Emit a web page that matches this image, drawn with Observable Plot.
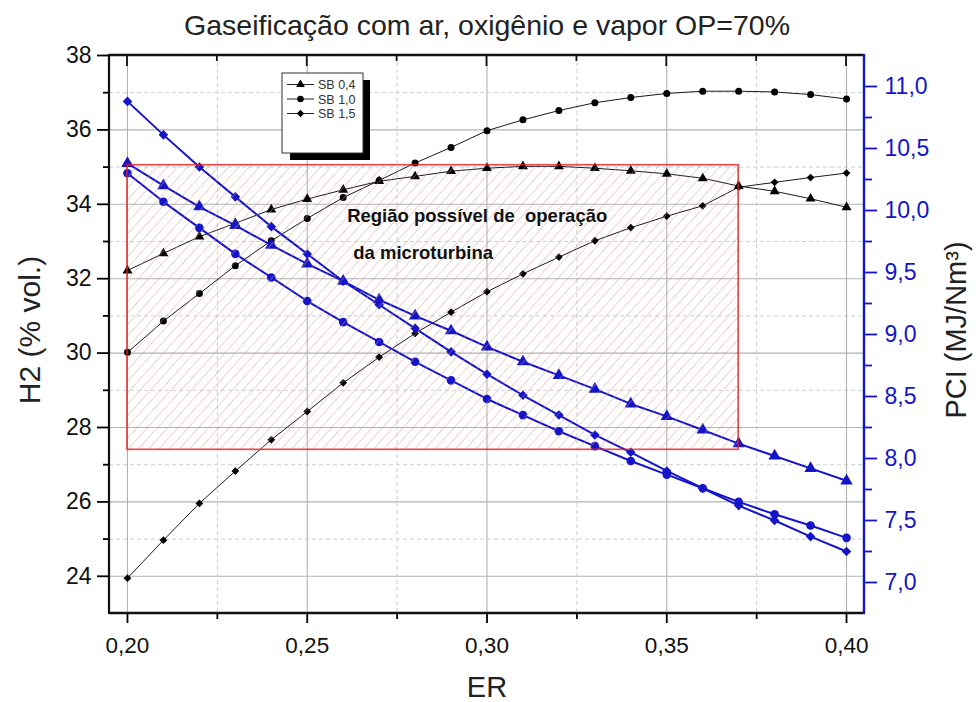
<!DOCTYPE html>
<html><head><meta charset="utf-8">
<script src="https://cdn.jsdelivr.net/npm/d3@7"></script>
<script src="https://cdn.jsdelivr.net/npm/@observablehq/plot@0.6"></script>
<style>
body{margin:0;background:#fff;font-family:"Liberation Sans",Arial,sans-serif;}
#wrap{position:relative;width:976px;height:702px;overflow:hidden;background:#fff}
#wrap > svg{position:absolute;left:0;top:0}
</style></head><body><div id="wrap"></div>
<script>
// ---------- data ----------
const ER = [0.20,0.21,0.22,0.23,0.24,0.25,0.26,0.27,0.28,0.29,0.30,0.31,0.32,0.33,0.34,0.35,0.36,0.37,0.38,0.39,0.40];
const seriesNames = ["SB 0,4","SB 1,0","SB 1,5"];
const h2_sb04 = [32.22,32.68,33.13,33.49,33.86,34.14,34.39,34.62,34.75,34.89,34.97,35.02,35.02,34.97,34.90,34.82,34.70,34.49,34.35,34.15,33.92];
const h2_sb10 = [30.02,30.86,31.60,32.35,33.02,33.62,34.18,34.64,35.11,35.53,35.98,36.27,36.52,36.73,36.87,36.98,37.04,37.04,37.02,36.95,36.83];
const h2_sb15 = [23.95,24.97,25.96,26.83,27.67,28.43,29.20,29.89,30.53,31.10,31.65,32.13,32.58,33.02,33.37,33.68,33.96,34.46,34.59,34.72,34.84];
const pci_sb04 = [10.38,10.20,10.03,9.88,9.72,9.57,9.43,9.28,9.15,9.03,8.90,8.78,8.67,8.56,8.44,8.34,8.23,8.12,8.02,7.92,7.82];
const pci_sb10 = [10.30,10.07,9.86,9.65,9.46,9.27,9.10,8.94,8.78,8.63,8.48,8.35,8.22,8.10,7.98,7.87,7.76,7.65,7.55,7.46,7.36];
const pci_sb15 = [10.88,10.61,10.35,10.11,9.87,9.65,9.43,9.24,9.05,8.86,8.68,8.51,8.35,8.19,8.05,7.90,7.76,7.62,7.50,7.37,7.25];
// operating region (ER range, H2 range)
const regionER = [0.20, 0.37];
const regionH2 = [27.4, 35.05];
const regionLabels = ["Região possível de\u00a0 operação", "da microturbina"];
const regionLabelER = [0.2611, 0.2628];
const regionLabelH2 = [33.67, 32.68];
// ticks
const xMajor = [0.20,0.25,0.30,0.35,0.40];
const xMinor = [0.225,0.275,0.325,0.375];
const h2Major = [24,26,28,30,32,34,36,38];
const h2Minor = [25,27,29,31,33,35,37];
const pciMajor = [7.0,7.5,8.0,8.5,9.0,9.5,10.0,10.5,11.0];
const pciMinor = [7.25,7.75,8.25,8.75,9.25,9.75,10.25,10.75];
const xDomain = [0.195, 0.405];
const h2Domain = [23, 38];
const pciDomain = [6.75, 11.25];
const titleText = "Gaseificação com ar, oxigênio e vapor OP=70%";
const xLabel = "ER", yLabel = "H2 (% vol.)", y2Label = "PCI (MJ/Nm³)";

// ---------- layout ----------
const W = 976, H = 702;
const M = {top: 55, right: 112, bottom: 89, left: 109};
const BLUE = "#1414c8";
const FONT = "Liberation Sans, Arial, sans-serif";
const symbols = ["triangle","circle","diamond2"];
const wrap = document.getElementById("wrap");

const rows = (vals, name) => ER.map((er, i) => ({er, v: vals[i], s: name}));
const black = [rows(h2_sb04, seriesNames[0]), rows(h2_sb10, seriesNames[1]), rows(h2_sb15, seriesNames[2])];
const blue = [rows(pci_sb04, seriesNames[0]), rows(pci_sb10, seriesNames[1]), rows(pci_sb15, seriesNames[2])];

const common = {
  width: W, height: H,
  marginTop: M.top, marginRight: M.right, marginBottom: M.bottom, marginLeft: M.left,
  style: {fontFamily: FONT, background: "transparent", overflow: "visible"},
  x: {domain: xDomain, axis: null}
};
const comma = (d, n) => d.toFixed(n).replace(".", ",");

// base layer: grid, black series, left/bottom/top axes
const frameLines = (index, scales, values, dim) => {
  const g = d3.create("svg:g");
  const l = dim.marginLeft, r = dim.width - dim.marginRight, t = dim.marginTop, b = dim.height - dim.marginBottom;
  for (const v of xMajor) g.append("line").attr("x1", scales.x(v)).attr("x2", scales.x(v)).attr("y1", t).attr("y2", t + 11).attr("stroke", "#111").attr("stroke-width", 1.8);
  for (const v of xMinor) g.append("line").attr("x1", scales.x(v)).attr("x2", scales.x(v)).attr("y1", t).attr("y2", t + 6).attr("stroke", "#111").attr("stroke-width", 1.8);
  g.append("line").attr("x1", l).attr("x2", r).attr("y1", t).attr("y2", t).attr("stroke", "#111").attr("stroke-width", 2.4);
  g.append("line").attr("x1", l).attr("x2", r + 1).attr("y1", b).attr("y2", b).attr("stroke", "#111").attr("stroke-width", 2.4);
  g.append("line").attr("x1", l).attr("x2", l).attr("y1", t - 1).attr("y2", b + 1).attr("stroke", "#111").attr("stroke-width", 2.2);
  return g.node();
};

const base = Plot.plot({
  ...common,
  y: {domain: h2Domain},
  marks: [
    Plot.gridX(xMinor, {stroke: "#cfcfcf", strokeOpacity: 1, strokeDasharray: "4,3"}),
    Plot.gridY(h2Minor, {stroke: "#cfcfcf", strokeOpacity: 1, strokeDasharray: "4,3"}),
    Plot.gridX(xMajor, {stroke: "#b2b2b2", strokeOpacity: 1, strokeWidth: 1.1}),
    Plot.gridY(h2Major, {stroke: "#b2b2b2", strokeOpacity: 1, strokeWidth: 1.1}),
    ...black.map(d => Plot.line(d, {x: "er", y: "v", stroke: "#1a1a1a", strokeWidth: 1})),
    ...black.map((d, i) => Plot.dot(d, {x: "er", y: "v", symbol: symbols[i], fill: "#000", stroke: "none", r: i === 0 ? 3.7 : 3.5})),
    Plot.axisX(xMajor, {tickSize: 10, tickPadding: 14, tickFormat: d => comma(d, 2), fontSize: 22.5, label: null, strokeWidth: 1.8, fill: "#111"}),
    Plot.axisX(xMinor, {tickSize: 6, tickFormat: () => "", label: null, strokeWidth: 1.8}),
    Plot.axisY(h2Major, {tickSize: 12, tickPadding: 6, fontSize: 23, label: null, strokeWidth: 1.8, fill: "#111"}),
    Plot.axisY(h2Minor, {tickSize: 6, tickFormat: () => "", label: null, strokeWidth: 1.8}),
    frameLines
  ]
});
wrap.appendChild(base);

// blue layer: PCI series and right axis
const rightLine = (index, scales, values, dim) => {
  const g = d3.create("svg:g");
  const r = dim.width - dim.marginRight;
  g.append("line").attr("x1", r).attr("x2", r).attr("y1", dim.marginTop - 1).attr("y2", dim.height - dim.marginBottom + 1).attr("stroke", BLUE).attr("stroke-width", 2.4);
  return g.node();
};
const bluePlot = Plot.plot({
  ...common,
  y: {domain: pciDomain},
  marks: [
    ...blue.map(d => Plot.line(d, {x: "er", y: "v", stroke: BLUE, strokeWidth: 2})),
    ...blue.map((d, i) => Plot.dot(d, {x: "er", y: "v", symbol: symbols[i], fill: BLUE, stroke: "none", r: i === 0 ? 4.6 : 4.3})),
    Plot.axisY(pciMajor, {anchor: "right", tickSize: 12, tickPadding: 8, fontSize: 23, tickFormat: d => comma(d, 1), label: null, stroke: BLUE, fill: BLUE, strokeWidth: 1.8}),
    Plot.axisY(pciMinor, {anchor: "right", tickSize: 7, tickFormat: () => "", label: null, stroke: BLUE, strokeWidth: 1.8}),
    rightLine
  ]
});
wrap.appendChild(bluePlot);

// top layer: region rectangle (semi-transparent, on top) + text
const hatchDefs = () => {
  const g = d3.create("svg:g");
  const p = g.append("defs").append("pattern").attr("id", "hatch").attr("patternUnits", "userSpaceOnUse")
    .attr("width", 7.6).attr("height", 7.6).attr("patternTransform", "rotate(42)");
  p.append("line").attr("x1", 0).attr("x2", 0).attr("y1", 0).attr("y2", 7.6).attr("stroke", "#d69494").attr("stroke-width", 1).attr("stroke-opacity", 0.85);
  return g.node();
};
const region = [{x1: regionER[0], x2: regionER[1], y1: regionH2[0], y2: regionH2[1]}];
const labels = regionLabels.map((t, i) => ({t, er: regionLabelER[i], h2: regionLabelH2[i]}));
const topPlot = Plot.plot({
  ...common,
  y: {domain: h2Domain, axis: null},
  marks: [
    hatchDefs,
    Plot.rect(region, {x1: "x1", x2: "x2", y1: "y1", y2: "y2", fill: "url(#hatch)", stroke: "#e02020", strokeOpacity: 0.8, strokeWidth: 1.7}),
    Plot.text(labels, {x: "er", y: "h2", text: "t", textAnchor: "start", fontSize: 18.5, fontWeight: "bold", fill: "#111"})
  ]
});
wrap.appendChild(topPlot);

// annotation layer: title, axis titles, legend
const ann = d3.create("svg").attr("width", W).attr("height", H).style("font-family", FONT);
ann.append("text").attr("x", 487).attr("y", 35).attr("text-anchor", "middle").attr("font-size", 28.5).attr("fill", "#222").text(titleText);
ann.append("text").attr("x", 487).attr("y", 697).attr("text-anchor", "middle").attr("font-size", 29).attr("fill", "#222").text(xLabel);
ann.append("text").attr("transform", "translate(40,330) rotate(-90)").attr("text-anchor", "middle").attr("font-size", 30).attr("fill", "#222").text(yLabel);
ann.append("text").attr("transform", "translate(966,330) rotate(-90)").attr("text-anchor", "middle").attr("font-size", 29).attr("fill", "#222").text(y2Label);
// legend box with shadow
const lg = ann.append("g");
lg.append("rect").attr("x", 290).attr("y", 80).attr("width", 80).attr("height", 80).attr("fill", "#000");
lg.append("rect").attr("x", 282).attr("y", 73).attr("width", 81).attr("height", 80).attr("fill", "#fff").attr("stroke", "#333").attr("stroke-width", 1);
const symMap = {triangle: d3.symbolTriangle, circle: d3.symbolCircle, diamond2: d3.symbolDiamond2};
seriesNames.forEach((name, i) => {
  const y = 84.5 + i * 14.5;
  lg.append("line").attr("x1", 287).attr("x2", 314).attr("y1", y).attr("y2", y).attr("stroke", "#222").attr("stroke-width", 1);
  lg.append("path").attr("transform", `translate(300.5,${y})`).attr("d", d3.symbol(symMap[symbols[i]], 34)()).attr("fill", "#000");
  lg.append("text").attr("x", 318).attr("y", y).attr("dy", "0.36em").attr("font-size", 12.5).attr("fill", "#333").text(name);
});
wrap.appendChild(ann.node());
</script></body></html>
